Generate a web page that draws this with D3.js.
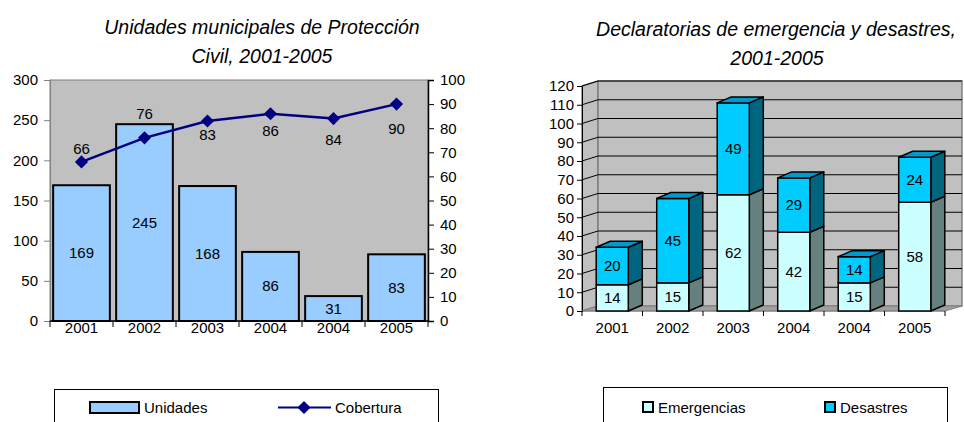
<!DOCTYPE html>
<html>
<head>
<meta charset="utf-8">
<script src="https://cdn.jsdelivr.net/npm/d3@7"></script>
<style>
  body { margin: 0; background: #fff; }
  svg { display: block; font-family: "Liberation Sans", Arial, sans-serif; }
</style>
</head>
<body>
<div id="chart"></div>
<script>
// left chart data
var years1 = ["2001", "2002", "2003", "2004", "2004", "2005"];
var unidades = [169, 245, 168, 86, 31, 83];
var cobertura = [66, 76, 83, 86, 84, 90];

// right chart data
var years2 = ["2001", "2002", "2003", "2004", "2004", "2005"];
var emergencias = [14, 15, 62, 42, 15, 58];
var desastres = [20, 45, 49, 29, 14, 24];

var leftTicks = [0, 50, 100, 150, 200, 250, 300];
var rightTicks = [0, 10, 20, 30, 40, 50, 60, 70, 80, 90, 100];
var stackTicks = [0, 10, 20, 30, 40, 50, 60, 70, 80, 90, 100, 110, 120];

var width = 964, height = 422;
var svg = d3.select("#chart").append("svg")
  .attr("width", width).attr("height", height);

var fs = 15;

// ---------- left chart ----------
(function() {
  var g = svg.append("g");
  var x0 = 50, x1 = 428, yTop = 80, yBot = 321;

  var x = d3.scaleBand().domain(d3.range(years1.length))
    .range([x0, x1]).paddingInner(0.1).paddingOuter(0.05);
  var xs = d3.scaleBand().domain(d3.range(years1.length)).range([x0, x1]);
  var yL = d3.scaleLinear().domain([0, 300]).range([yBot, yTop]);
  var yR = d3.scaleLinear().domain([0, 100]).range([yBot, yTop]);

  g.append("text").attr("x", 262).attr("y", 34).attr("text-anchor", "middle")
    .attr("font-style", "italic").attr("font-size", 19.5)
    .text("Unidades municipales de Protección");
  g.append("text").attr("x", 262).attr("y", 63).attr("text-anchor", "middle")
    .attr("font-style", "italic").attr("font-size", 19.5)
    .text("Civil, 2001-2005");

  g.append("rect").attr("x", x0).attr("y", yTop)
    .attr("width", x1 - x0).attr("height", yBot - yTop)
    .attr("fill", "#c0c0c0").attr("stroke", "#808080").attr("stroke-width", 1);

  // left axis
  var axL = g.append("g").attr("transform", "translate(" + x0 + ",0)")
    .call(d3.axisLeft(yL).tickValues(leftTicks).tickSize(6).tickPadding(6));
  axL.select(".domain").attr("stroke", "#808080");
  axL.selectAll(".tick line").attr("stroke", "#808080");
  axL.selectAll("text").attr("font-size", fs).attr("font-family", null).attr("fill", "#000");

  // right axis
  var axR = g.append("g").attr("transform", "translate(" + x1 + ",0)")
    .call(d3.axisRight(yR).tickValues(rightTicks).tickSize(6).tickPadding(6));
  axR.select(".domain").attr("stroke", "#000").attr("stroke-width", 1.5);
  axR.selectAll(".tick line").attr("stroke", "#000");
  axR.selectAll("text").attr("font-size", fs).attr("font-family", null).attr("fill", "#000");

  // bars
  g.selectAll(".bar").data(unidades).enter().append("rect")
    .attr("x", function(d, i) { return x(i); })
    .attr("y", function(d) { return yL(d); })
    .attr("width", x.bandwidth())
    .attr("height", function(d) { return yBot - yL(d); })
    .attr("fill", "#99ccff").attr("stroke", "#000").attr("stroke-width", 2);

  g.selectAll(".blab").data(unidades).enter().append("text")
    .attr("x", function(d, i) { return x(i) + x.bandwidth() / 2; })
    .attr("y", function(d) { return (yL(d) + yBot) / 2 + 5; })
    .attr("text-anchor", "middle").attr("font-size", fs)
    .text(function(d) { return d; });

  // x axis
  g.append("line").attr("x1", x0).attr("x2", x1).attr("y1", yBot).attr("y2", yBot)
    .attr("stroke", "#000").attr("stroke-width", 1.5);
  g.selectAll(".xt").data(d3.range(years1.length + 1)).enter().append("line")
    .attr("x1", function(i) { return x0 + i * xs.step(); })
    .attr("x2", function(i) { return x0 + i * xs.step(); })
    .attr("y1", yBot).attr("y2", yBot + 6).attr("stroke", "#000");
  g.selectAll(".xl").data(years1).enter().append("text")
    .attr("x", function(d, i) { return xs(i) + xs.step() / 2; })
    .attr("y", 333).attr("text-anchor", "middle").attr("font-size", fs)
    .text(function(d) { return d; });

  // line
  var cx = function(i) { return xs(i) + xs.step() / 2; };
  var line = d3.line().x(function(d, i) { return cx(i); }).y(function(d) { return yR(d); });
  g.append("path").datum(cobertura).attr("d", line)
    .attr("fill", "none").attr("stroke", "#000080").attr("stroke-width", 2.5);
  var diamond = d3.symbol().type(d3.symbolDiamond2).size(110);
  g.selectAll(".pt").data(cobertura).enter().append("path")
    .attr("d", diamond)
    .attr("transform", function(d, i) { return "translate(" + cx(i) + "," + yR(d) + ")"; })
    .attr("fill", "#000080");

  // label offsets (baseline relative to point)
  var labelShift = [-8, -19, 19, 22, 26, 30];
  g.selectAll(".ll").data(cobertura).enter().append("text")
    .attr("x", function(d, i) { return cx(i); })
    .attr("y", function(d, i) { return yR(d) + labelShift[i]; })
    .attr("text-anchor", "middle").attr("font-size", fs)
    .text(function(d) { return d; });

  // legend
  var lg = g.append("g");
  lg.append("rect").attr("x", 54.5).attr("y", 389.5).attr("width", 384).attr("height", 50)
    .attr("fill", "#fff").attr("stroke", "#000");
  lg.append("rect").attr("x", 90).attr("y", 402).attr("width", 49).attr("height", 11)
    .attr("fill", "#99ccff").attr("stroke", "#000").attr("stroke-width", 2);
  lg.append("text").attr("x", 144).attr("y", 413).attr("font-size", fs).text("Unidades");
  lg.append("line").attr("x1", 278).attr("x2", 331).attr("y1", 407.5).attr("y2", 407.5)
    .attr("stroke", "#000080").attr("stroke-width", 2);
  lg.append("path").attr("d", diamond).attr("transform", "translate(304,407.5)").attr("fill", "#000080");
  lg.append("text").attr("x", 335).attr("y", 413).attr("font-size", fs).text("Cobertura");
})();

// ---------- right chart ----------
(function() {
  var g = svg.append("g");
  var x0 = 582, x1 = 945, yTop = 86, yBot = 311;
  var wdx = 16, wdy = -5;   // wall depth
  var bdx = 14, bdy = -6;   // bar depth

  g.append("text").attr("x", 776).attr("y", 36).attr("text-anchor", "middle")
    .attr("font-style", "italic").attr("font-size", 19.5)
    .text("Declaratorias de emergencia y desastres,");
  g.append("text").attr("x", 777).attr("y", 65).attr("text-anchor", "middle")
    .attr("font-style", "italic").attr("font-size", 19.5)
    .text("2001-2005");

  var x = d3.scaleBand().domain(d3.range(years2.length))
    .range([x0, x1]).paddingInner(0.47).paddingOuter(0.235);
  var xs = d3.scaleBand().domain(d3.range(years2.length)).range([x0, x1]);
  var y = d3.scaleLinear().domain([0, 120]).range([yBot, yTop]);

  // walls
  var bx = x0 + wdx, bxr = x1 + wdx + 1;
  g.append("polygon")
    .attr("points", [[x0, yTop], [bx, yTop + wdy], [bx, yBot + wdy], [x0, yBot]].join(" "))
    .attr("fill", "#c0c0c0").attr("stroke", "#808080").attr("stroke-width", 1.5);
  g.append("rect").attr("x", bx).attr("y", yTop + wdy)
    .attr("width", bxr - bx).attr("height", yBot - yTop)
    .attr("fill", "#c0c0c0").attr("stroke", "#808080").attr("stroke-width", 1.5);
  g.append("polygon")
    .attr("points", [[x0, yBot], [bx, yBot + wdy], [bxr, yBot + wdy], [x1, yBot]].join(" "))
    .attr("fill", "#a0a0a0").attr("stroke", "#808080").attr("stroke-width", 1);

  // gridlines
  g.selectAll(".gl").data(stackTicks.slice(1)).enter().append("polyline")
    .attr("points", function(d) {
      return [[x0, y(d)], [bx, y(d) + wdy], [bxr, y(d) + wdy]].join(" ");
    })
    .attr("fill", "none").attr("stroke", "#000").attr("stroke-width", 1);

  // y axis
  var ax = g.append("g").attr("transform", "translate(" + x0 + ",0)")
    .call(d3.axisLeft(y).tickValues(stackTicks).tickSize(5).tickPadding(3));
  ax.select(".domain").attr("stroke", "#000");
  ax.selectAll(".tick line").attr("stroke", "#000");
  ax.selectAll("text").attr("font-size", fs).attr("font-family", null).attr("fill", "#000");

  // x axis
  g.append("line").attr("x1", x0).attr("x2", x1).attr("y1", yBot).attr("y2", yBot)
    .attr("stroke", "#808080");
  g.selectAll(".xt").data(d3.range(years2.length + 1)).enter().append("line")
    .attr("x1", function(i) { return x0 + i * xs.step(); })
    .attr("x2", function(i) { return x0 + i * xs.step(); })
    .attr("y1", yBot).attr("y2", yBot + 5).attr("stroke", "#000");
  g.selectAll(".xl").data(years2).enter().append("text")
    .attr("x", function(d, i) { return xs(i) + xs.step() / 2; })
    .attr("y", 333).attr("text-anchor", "middle").attr("font-size", fs)
    .text(function(d) { return d; });

  var series = [
    { vals: emergencias, front: "#ccffff", side: "#668080", top: "#a3cccc" },
    { vals: desastres, front: "#00ccff", side: "#006680", top: "#0099cc" }
  ];

  var bw = x.bandwidth();
  years2.forEach(function(yr, i) {
    var bl = x(i), br = x(i) + bw;
    var base = 0;
    series.forEach(function(s, k) {
      var v = s.vals[i];
      var y0 = y(base), y1 = y(base + v);
      // side
      g.append("polygon")
        .attr("points", [[br, y0], [br + bdx, y0 + bdy], [br + bdx, y1 + bdy], [br, y1]].join(" "))
        .attr("fill", s.side).attr("stroke", "#000").attr("stroke-width", 1.5)
        .attr("stroke-linejoin", "round");
      // front
      g.append("rect").attr("x", bl).attr("y", y1).attr("width", bw).attr("height", y0 - y1)
        .attr("fill", s.front).attr("stroke", "#000").attr("stroke-width", 1.5);
      // top (only last segment)
      if (k === series.length - 1) {
        g.append("polygon")
          .attr("points", [[bl, y1], [bl + bdx, y1 + bdy], [br + bdx, y1 + bdy], [br, y1]].join(" "))
          .attr("fill", s.top).attr("stroke", "#000").attr("stroke-width", 1.5)
          .attr("stroke-linejoin", "round");
      }
      g.append("text").attr("x", bl + bw / 2).attr("y", (y0 + y1) / 2 + 5)
        .attr("text-anchor", "middle").attr("font-size", fs).text(v);
      base += v;
    });
  });

  // legend
  var lg = g.append("g");
  lg.append("rect").attr("x", 603.5).attr("y", 387.5).attr("width", 344).attr("height", 50)
    .attr("fill", "#fff").attr("stroke", "#000");
  lg.append("rect").attr("x", 643).attr("y", 402).attr("width", 10).attr("height", 10)
    .attr("fill", "#ccffff").attr("stroke", "#000").attr("stroke-width", 2);
  lg.append("text").attr("x", 658).attr("y", 413).attr("font-size", fs).text("Emergencias");
  lg.append("rect").attr("x", 825).attr("y", 402).attr("width", 10).attr("height", 10)
    .attr("fill", "#00ccff").attr("stroke", "#000").attr("stroke-width", 2);
  lg.append("text").attr("x", 840).attr("y", 413).attr("font-size", fs).text("Desastres");
})();
</script>
</body>
</html>
